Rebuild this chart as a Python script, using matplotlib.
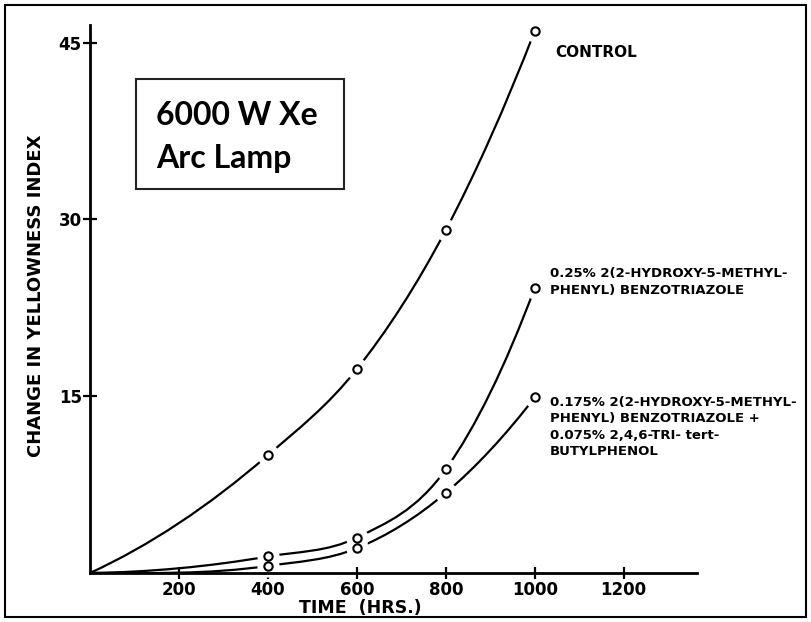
import matplotlib.pyplot as plt
import numpy as np
from matplotlib.path import Path
from matplotlib.patches import PathPatch, Rectangle

plt.rcParams['font.family'] = ['DejaVu Sans']

# data
hours = [400, 600, 800, 1000]
control = [10.0, 17.3, 29.1, 46.0]
benzotriazole = [1.4, 3.0, 8.8, 24.2]
blend = [0.6, 2.1, 6.8, 14.9]

x_ticks = [200, 400, 600, 800, 1000, 1200]
y_ticks = [15, 30, 45]

label_control = 'CONTROL'
label_benzo = '0.25% 2(2-HYDROXY-5-METHYL-\nPHENYL) BENZOTRIAZOLE'
label_blend = ('0.175% 2(2-HYDROXY-5-METHYL-\nPHENYL) BENZOTRIAZOLE +\n'
               '0.075% 2,4,6-TRI- tert-\nBUTYLPHENOL')


def smooth_path(xs, ys):
    # smooth hand-drawn style curve from the origin through the points
    # (cubic Hermite pieces written as Bezier segments)
    x = np.array([0] + list(xs), float)
    y = np.array([0] + list(ys), float)
    h = np.diff(x)
    d = np.diff(y) / h
    m = np.zeros_like(x)
    m[0] = max(((2 * h[0] + h[1]) * d[0] - h[0] * d[1]) / (h[0] + h[1]), 0)
    for i in range(1, len(x) - 1):
        m[i] = (h[i] * d[i - 1] + h[i - 1] * d[i]) / (h[i - 1] + h[i])
    m[-1] = ((2 * h[-1] + h[-2]) * d[-1] - h[-1] * d[-2]) / (h[-1] + h[-2])
    verts = [(x[0], y[0])]
    codes = [Path.MOVETO]
    for i in range(len(h)):
        verts += [(x[i] + h[i] / 3, y[i] + m[i] * h[i] / 3),
                  (x[i + 1] - h[i] / 3, y[i + 1] - m[i + 1] * h[i] / 3),
                  (x[i + 1], y[i + 1])]
        codes += [Path.CURVE4] * 3
    return Path(verts, codes)


def px(x, y):
    return x / 811, 1 - y / 622


fig = plt.figure(figsize=(8.11, 6.22), dpi=100)
ax = fig.add_axes([0.111, 0.0788, 0.748, 0.881])

for ys in (control, benzotriazole, blend):
    ax.add_patch(PathPatch(smooth_path(hours, ys), fill=False, lw=1.6,
                           color='black', capstyle='butt', zorder=2))
    # white halo leaves a gap in the line around each point
    ax.plot(hours, ys, 'o', ms=15, mfc='white', mec='white', zorder=3,
            clip_on=False)
    ax.plot(hours, ys, 'o', ms=6, mfc='white', mec='black', mew=1.5, zorder=4,
            clip_on=False)

ax.set_xlim(0, 1364)
ax.set_ylim(0, 46.5)
ax.set_xticks(x_ticks)
ax.set_yticks(y_ticks)
for s in ('top', 'right'):
    ax.spines[s].set_visible(False)
for s in ('left', 'bottom'):
    ax.spines[s].set_linewidth(2)
    ax.spines[s].set_zorder(3.5)
ax.tick_params(direction='inout', width=1.6, labelsize=12)
ax.tick_params(axis='x', length=8.5, pad=1.5)
ax.tick_params(axis='y', length=10, pad=1)
for lab in ax.get_xticklabels() + ax.get_yticklabels():
    lab.set_fontweight('bold')

fig.text(*px(360, 608), 'TIME  (HRS.)', fontsize=12.5, fontweight='bold',
         ha='center', va='center')
fig.text(*px(36, 296), 'CHANGE IN YELLOWNESS INDEX', fontsize=13,
         fontweight='bold', rotation=90, ha='center', va='center')

ax.text(1045, 44.2, label_control, fontsize=11, fontweight='bold', va='center')
ax.text(1034, 24.7, label_benzo, fontsize=9.5, fontweight='bold', va='center',
        linespacing=1.35)
ax.text(1034, 12.4, label_blend, fontsize=9.5, fontweight='bold', va='center',
        linespacing=1.35)

# title box
fig.patches.append(Rectangle(px(136, 189), 208 / 811, 110 / 622,
                             transform=fig.transFigure, fill=False,
                             ec='#222222', lw=1.5))
fig.text(*px(156, 125), '6000 W Xe', fontsize=23,
         fontfamily=['Lato', 'DejaVu Sans'], fontweight='bold',
         va='baseline', ha='left')
fig.text(*px(156, 168), 'Arc Lamp', fontsize=23,
         fontfamily=['Lato', 'DejaVu Sans'], fontweight='bold',
         va='baseline', ha='left')

# outer frame
fig.patches.append(Rectangle(px(5, 617), 801 / 811, 612 / 622,
                             transform=fig.transFigure, fill=False,
                             ec='black', lw=1.5))

fig.savefig('out.png', dpi=100)
